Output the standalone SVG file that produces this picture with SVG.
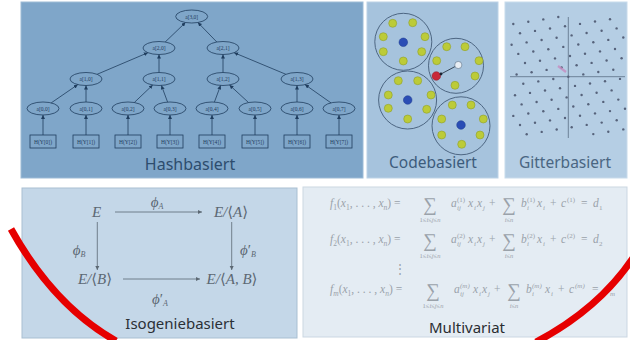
<svg xmlns="http://www.w3.org/2000/svg" width="630" height="340" viewBox="0 0 630 340">
<style>
.lbl{font-family:"Noto Sans","Open Sans",sans-serif;text-anchor:middle}
.nd{fill:none;stroke:#1f3d5e;stroke-width:0.8}
.nt{font-family:"Liberation Serif",serif;font-size:5.5px;fill:#1f3d5e;text-anchor:middle}
.ed{stroke:#1f3d5e;stroke-width:0.8;fill:none;marker-end:url(#ah)}
.g{fill:#bccb38;stroke:#8fa02c;stroke-width:0.6}
.b{fill:#2a4db5;stroke:#1d3a8c;stroke-width:0.5}
.cc{fill:none;stroke:#4d6682;stroke-width:1}
.m{font-family:"Liberation Serif","DejaVu Serif",serif;font-style:italic;font-size:15px;fill:#5c6873;text-anchor:middle}
.up{font-style:normal}
.ia{stroke:#5c6873;stroke-width:0.8;fill:none;marker-end:url(#ah2)}
.eq{font-family:"Liberation Serif","DejaVu Serif",serif;font-size:11.5px;fill:#9aa2aa}
.it{font-style:italic}
.sb{font-size:7.5px}
.s7{font-size:7px}
.sm{font-size:6.5px;text-anchor:middle}
.big{font-size:19px;text-anchor:middle}
.red{fill:none;stroke:#e60000;stroke-width:7}
</style>
<defs>
<marker id="ah" viewBox="0 0 6 6" refX="6" refY="3" markerWidth="4" markerHeight="4" markerUnits="userSpaceOnUse" orient="auto"><path d="M0,0 L6,3 L0,6 z" fill="#1f3d5e"/></marker>
<marker id="ah2" viewBox="0 0 6 6" refX="6" refY="3" markerWidth="4.5" markerHeight="4.5" markerUnits="userSpaceOnUse" orient="auto"><path d="M0,0 L6,3 L0,6 z" fill="#5c6873"/></marker>
</defs>
<rect width="630" height="340" fill="#ffffff"/>

<!-- Hashbasiert -->
<g id="hash">
<rect x="21" y="2" width="342" height="176" fill="#7fa6c9" stroke="#9dbbd6" stroke-width="1"/>
<g id="connectors">
<line class="ed" x1="165.2" y1="42" x2="185.5" y2="22.5"/>
<line class="ed" x1="216.8" y1="42" x2="197.9" y2="22.5"/>
<line class="ed" x1="97.1" y1="74.3" x2="147.9" y2="52.7"/>
<line class="ed" x1="159" y1="72.5" x2="159" y2="54.5"/>
<line class="ed" x1="223" y1="72.5" x2="223" y2="54.5"/>
<line class="ed" x1="285.9" y1="74.3" x2="234.1" y2="52.7"/>
<line class="ed" x1="51.2" y1="102.9" x2="77.8" y2="84.6"/>
<line class="ed" x1="86" y1="102" x2="86" y2="85.5"/>
<line class="ed" x1="134.3" y1="102.5" x2="152.7" y2="85"/>
<line class="ed" x1="167.6" y1="102.1" x2="161.4" y2="85.4"/>
<line class="ed" x1="214.4" y1="102.1" x2="220.6" y2="85.4"/>
<line class="ed" x1="248.5" y1="102.5" x2="229.5" y2="85"/>
<line class="ed" x1="297" y1="102" x2="297" y2="85.5"/>
<line class="ed" x1="331" y1="102.9" x2="305" y2="84.6"/>
<line class="ed" x1="43" y1="135" x2="43" y2="115"/>
<line class="ed" x1="86" y1="135" x2="86" y2="115"/>
<line class="ed" x1="128" y1="135" x2="128" y2="115"/>
<line class="ed" x1="170" y1="135" x2="170" y2="115"/>
<line class="ed" x1="212" y1="135" x2="212" y2="115"/>
<line class="ed" x1="255" y1="135" x2="255" y2="115"/>
<line class="ed" x1="297" y1="135" x2="297" y2="115"/>
<line class="ed" x1="339" y1="135" x2="339" y2="115"/>
</g>
<g id="n30"><ellipse class="nd" cx="191.7" cy="16.5" rx="16" ry="6.5"/><text class="nt" x="191.7" y="18.5">a[3,0]</text></g>
<g id="n20"><ellipse class="nd" cx="159" cy="48" rx="16" ry="6.5"/><text class="nt" x="159" y="50">a[2,0]</text></g>
<g id="n21"><ellipse class="nd" cx="223" cy="48" rx="16" ry="6.5"/><text class="nt" x="223" y="50">a[2,1]</text></g>
<g id="n10"><ellipse class="nd" cx="86" cy="79" rx="16" ry="6.5"/><text class="nt" x="86" y="81">a[1,0]</text></g>
<g id="n11"><ellipse class="nd" cx="159" cy="79" rx="16" ry="6.5"/><text class="nt" x="159" y="81">a[1,1]</text></g>
<g id="n12"><ellipse class="nd" cx="223" cy="79" rx="16" ry="6.5"/><text class="nt" x="223" y="81">a[1,2]</text></g>
<g id="n13"><ellipse class="nd" cx="297" cy="79" rx="16" ry="6.5"/><text class="nt" x="297" y="81">a[1,3]</text></g>
<g id="n00"><ellipse class="nd" cx="43" cy="108.5" rx="16" ry="6.5"/><text class="nt" x="43" y="110.5">a[0,0]</text></g>
<g id="n01"><ellipse class="nd" cx="86" cy="108.5" rx="16" ry="6.5"/><text class="nt" x="86" y="110.5">a[0,1]</text></g>
<g id="n02"><ellipse class="nd" cx="128" cy="108.5" rx="16" ry="6.5"/><text class="nt" x="128" y="110.5">a[0,2]</text></g>
<g id="n03"><ellipse class="nd" cx="170" cy="108.5" rx="16" ry="6.5"/><text class="nt" x="170" y="110.5">a[0,3]</text></g>
<g id="n04"><ellipse class="nd" cx="212" cy="108.5" rx="16" ry="6.5"/><text class="nt" x="212" y="110.5">a[0,4]</text></g>
<g id="n05"><ellipse class="nd" cx="255" cy="108.5" rx="16" ry="6.5"/><text class="nt" x="255" y="110.5">a[0,5]</text></g>
<g id="n06"><ellipse class="nd" cx="297" cy="108.5" rx="16" ry="6.5"/><text class="nt" x="297" y="110.5">a[0,6]</text></g>
<g id="n07"><ellipse class="nd" cx="339" cy="108.5" rx="16" ry="6.5"/><text class="nt" x="339" y="110.5">a[0,7]</text></g>
<g id="l0"><rect class="nd" x="30" y="135" width="26" height="13"/><text class="nt" x="43" y="143.5">H(Y[0])</text></g>
<g id="l1"><rect class="nd" x="73" y="135" width="26" height="13"/><text class="nt" x="86" y="143.5">H(Y[1])</text></g>
<g id="l2"><rect class="nd" x="115" y="135" width="26" height="13"/><text class="nt" x="128" y="143.5">H(Y[2])</text></g>
<g id="l3"><rect class="nd" x="157" y="135" width="26" height="13"/><text class="nt" x="170" y="143.5">H(Y[3])</text></g>
<g id="l4"><rect class="nd" x="199" y="135" width="26" height="13"/><text class="nt" x="212" y="143.5">H(Y[4])</text></g>
<g id="l5"><rect class="nd" x="242" y="135" width="26" height="13"/><text class="nt" x="255" y="143.5">H(Y[5])</text></g>
<g id="l6"><rect class="nd" x="284" y="135" width="26" height="13"/><text class="nt" x="297" y="143.5">H(Y[6])</text></g>
<g id="l7"><rect class="nd" x="326" y="135" width="26" height="13"/><text class="nt" x="339" y="143.5">H(Y[7])</text></g>
<text class="lbl" x="190" y="170" font-size="16" fill="#2d4d6e">Hashbasiert</text>
</g>

<!-- Codebasiert -->
<g id="code">
<rect x="367" y="2" width="131" height="176" fill="#a6c3dd" stroke="#bcd2e6" stroke-width="1"/>
<circle class="cc" cx="403.3" cy="41.8" r="28.5"/>
<circle class="cc" cx="456" cy="65.8" r="27.5"/>
<circle class="cc" cx="407.6" cy="100" r="29"/>
<circle class="cc" cx="461" cy="125.8" r="29"/>
<circle class="g" cx="392.7" cy="23.3" r="4"/><circle class="g" cx="412.7" cy="22.7" r="4"/><circle class="g" cx="383.3" cy="36.7" r="4"/><circle class="g" cx="425" cy="36.7" r="4"/><circle class="g" cx="383.3" cy="51.7" r="4"/><circle class="g" cx="421.7" cy="51.7" r="4"/><circle class="g" cx="403.3" cy="61" r="4"/>
<circle class="b" cx="403.3" cy="42.3" r="4.3"/>
<circle class="g" cx="446.7" cy="46.7" r="4"/><circle class="g" cx="465" cy="46.7" r="4"/><circle class="g" cx="436.7" cy="60.7" r="4"/><circle class="g" cx="479" cy="60.7" r="4"/><circle class="g" cx="475" cy="76" r="4"/><circle class="g" cx="455" cy="85.3" r="4"/>
<line x1="441" y1="74" x2="457" y2="65.5" stroke="#2b3a4a" stroke-width="0.9"/>
<circle cx="458.3" cy="65" r="3.6" fill="#e8eef4" stroke="#5a6f85" stroke-width="0.6"/>
<circle cx="436.3" cy="76" r="4.3" fill="#c8283a" stroke="#8a1a28" stroke-width="0.5"/>
<circle cx="441" cy="74" r="1.4" fill="#1a2230"/>
<circle class="g" cx="398.3" cy="80.7" r="4"/><circle class="g" cx="417.7" cy="80.7" r="4"/><circle class="g" cx="388.3" cy="95" r="4"/><circle class="g" cx="431" cy="95" r="4"/><circle class="g" cx="388.3" cy="108.3" r="4"/><circle class="g" cx="426.7" cy="109.3" r="4"/><circle class="g" cx="407.7" cy="119" r="4"/>
<circle class="b" cx="407.7" cy="100" r="4.3"/>
<circle class="g" cx="452.3" cy="105" r="4"/><circle class="g" cx="471" cy="105" r="4"/><circle class="g" cx="441.7" cy="119" r="4"/><circle class="g" cx="483.3" cy="119" r="4"/><circle class="g" cx="441.7" cy="135" r="4"/><circle class="g" cx="480" cy="135" r="4"/><circle class="g" cx="461.7" cy="144.3" r="4"/>
<circle class="b" cx="461" cy="125" r="4.3"/>
<text class="lbl" x="433" y="168" font-size="15.5" fill="#3d5c7c">Codebasiert</text>
</g>

<!-- Gitterbasiert -->
<g id="gitter">
<rect x="505" y="2" width="122" height="176" fill="#b5cee4" stroke="#c8dbeb" stroke-width="1"/>
<line x1="510" y1="76.7" x2="625" y2="76.7" stroke="#6d8298" stroke-width="1"/>
<line x1="568.3" y1="17" x2="568.3" y2="138" stroke="#6d8298" stroke-width="1"/>
<g fill="#56627a">
<circle cx="513.3" cy="24" r="1.2"/><circle cx="528.3" cy="21.7" r="1.2"/><circle cx="543.3" cy="19.4" r="1.2"/><circle cx="558.3" cy="17" r="1.2"/>
<circle cx="520" cy="33.2" r="1.2"/><circle cx="535" cy="30.9" r="1.2"/><circle cx="550" cy="28.5" r="1.2"/><circle cx="565" cy="26.2" r="1.2"/><circle cx="580" cy="23.9" r="1.2"/><circle cx="595" cy="21.5" r="1.2"/><circle cx="610" cy="19.2" r="1.2"/>
<circle cx="511.6" cy="44.7" r="1.2"/><circle cx="526.6" cy="42.4" r="1.2"/><circle cx="541.6" cy="40" r="1.2"/><circle cx="556.6" cy="37.7" r="1.2"/><circle cx="571.6" cy="35.4" r="1.2"/><circle cx="586.6" cy="33" r="1.2"/><circle cx="601.6" cy="30.7" r="1.2"/><circle cx="616.6" cy="28.4" r="1.2"/>
<circle cx="518.3" cy="53.9" r="1.2"/><circle cx="533.3" cy="51.5" r="1.2"/><circle cx="548.3" cy="49.2" r="1.2"/><circle cx="563.3" cy="46.9" r="1.2"/><circle cx="578.3" cy="44.5" r="1.2"/><circle cx="593.3" cy="42.2" r="1.2"/><circle cx="608.3" cy="39.9" r="1.2"/><circle cx="623.3" cy="37.5" r="1.2"/>
<circle cx="525" cy="63" r="1.2"/><circle cx="540" cy="60.7" r="1.2"/><circle cx="555" cy="58.4" r="1.2"/><circle cx="570" cy="56" r="1.2"/><circle cx="585" cy="53.7" r="1.2"/><circle cx="600" cy="51.4" r="1.2"/><circle cx="615" cy="49" r="1.2"/>
<circle cx="516.6" cy="74.5" r="1.2"/><circle cx="531.6" cy="72.2" r="1.2"/><circle cx="546.6" cy="69.9" r="1.2"/><circle cx="561.6" cy="67.5" r="1.2"/><circle cx="576.6" cy="65.2" r="1.2"/><circle cx="591.6" cy="62.9" r="1.2"/><circle cx="606.6" cy="60.5" r="1.2"/><circle cx="621.6" cy="58.2" r="1.2"/>
<circle cx="523.3" cy="83.7" r="1.2"/><circle cx="538.3" cy="81.4" r="1.2"/><circle cx="553.3" cy="79" r="1.2"/><circle cx="568.3" cy="76.7" r="1.2"/><circle cx="583.3" cy="74.4" r="1.2"/><circle cx="598.3" cy="72" r="1.2"/><circle cx="613.3" cy="69.7" r="1.2"/>
<circle cx="515" cy="95.2" r="1.2"/><circle cx="530" cy="92.9" r="1.2"/><circle cx="545" cy="90.5" r="1.2"/><circle cx="560" cy="88.2" r="1.2"/><circle cx="575" cy="85.9" r="1.2"/><circle cx="590" cy="83.5" r="1.2"/><circle cx="605" cy="81.2" r="1.2"/><circle cx="620" cy="78.9" r="1.2"/>
<circle cx="521.6" cy="104.4" r="1.2"/><circle cx="536.6" cy="102" r="1.2"/><circle cx="551.6" cy="99.7" r="1.2"/><circle cx="566.6" cy="97.4" r="1.2"/><circle cx="581.6" cy="95" r="1.2"/><circle cx="596.6" cy="92.7" r="1.2"/><circle cx="611.6" cy="90.4" r="1.2"/>
<circle cx="513.3" cy="115.9" r="1.2"/><circle cx="528.3" cy="113.5" r="1.2"/><circle cx="543.3" cy="111.2" r="1.2"/><circle cx="558.3" cy="108.9" r="1.2"/><circle cx="573.3" cy="106.5" r="1.2"/><circle cx="588.3" cy="104.2" r="1.2"/><circle cx="603.3" cy="101.9" r="1.2"/><circle cx="618.3" cy="99.6" r="1.2"/>
<circle cx="520" cy="125" r="1.2"/><circle cx="535" cy="122.7" r="1.2"/><circle cx="550" cy="120.4" r="1.2"/><circle cx="565" cy="118" r="1.2"/><circle cx="580" cy="115.7" r="1.2"/><circle cx="595" cy="113.4" r="1.2"/><circle cx="610" cy="111.1" r="1.2"/><circle cx="625" cy="108.7" r="1.2"/>
<circle cx="526.7" cy="134.2" r="1.2"/><circle cx="541.7" cy="131.9" r="1.2"/><circle cx="556.7" cy="129.5" r="1.2"/><circle cx="571.7" cy="127.2" r="1.2"/><circle cx="586.7" cy="124.9" r="1.2"/><circle cx="601.7" cy="122.6" r="1.2"/><circle cx="616.7" cy="120.2" r="1.2"/>
<circle cx="593.3" cy="134.1" r="1.2"/><circle cx="608.3" cy="131.7" r="1.2"/><circle cx="623.3" cy="129.4" r="1.2"/>
</g>
<line x1="566" y1="72" x2="558" y2="66" stroke="#c58bbf" stroke-width="2.2" stroke-opacity="0.8"/>
<text class="lbl" x="565" y="168" font-size="15.5" fill="#4a6682">Gitterbasiert</text>
</g>

<!-- Isogeniebasiert -->
<g id="iso">
<rect x="22" y="188" width="275" height="150" fill="#c4d7e8" stroke="#a9bfd2" stroke-width="1"/>
<g id="isoarrows">
<line class="ia" x1="115" y1="212" x2="202" y2="212"/>
<line class="ia" x1="97.3" y1="222" x2="97.3" y2="270"/>
<line class="ia" x1="231.7" y1="222" x2="231.7" y2="270"/>
<line class="ia" x1="123" y1="279" x2="200" y2="279"/>
</g>
<g id="iE"><text class="m" x="96.7" y="217">E</text></g>
<g id="iEA"><text class="m" x="231" y="217">E/<tspan class="up">⟨</tspan>A<tspan class="up">⟩</tspan></text></g>
<g id="iEB"><text class="m" x="95" y="284">E/<tspan class="up">⟨</tspan>B<tspan class="up">⟩</tspan></text></g>
<g id="iEAB"><text class="m" x="232" y="284">E/<tspan class="up">⟨</tspan>A, B<tspan class="up">⟩</tspan></text></g>
<text class="m" x="157" y="207" font-size="12">ϕ<tspan font-size="8" dy="2">A</tspan></text>
<text class="m" x="79" y="255" font-size="12">ϕ<tspan font-size="8" dy="2">B</tspan></text>
<text class="m" x="248" y="255" font-size="12">ϕ<tspan class="up">′</tspan><tspan font-size="8" dy="2">B</tspan></text>
<text class="m" x="160" y="304" font-size="12">ϕ<tspan class="up">′</tspan><tspan font-size="8" dy="2">A</tspan></text>
<text class="lbl" x="180" y="329" font-size="15" fill="#2b3036">Isogeniebasiert</text>
</g>

<!-- Multivariat -->
<g id="multi">
<rect x="303" y="187" width="324" height="150" fill="#e4ecf3" stroke="#cbd7e2" stroke-width="1"/>
<text class="eq"><tspan x="330" y="207" class="it">f</tspan><tspan class="sb" dy="2.5">1</tspan><tspan dy="-2.5">(</tspan><tspan class="it">x</tspan><tspan class="sb" dy="2.5">1</tspan><tspan dy="-2.5">, . . . , </tspan><tspan class="it">x</tspan><tspan class="sb it" dy="2.5">n</tspan><tspan dy="-2.5">) =</tspan><tspan class="big" x="430" y="211">∑</tspan><tspan class="sm" x="430" y="222">1≤<tspan class="it">i</tspan>≤<tspan class="it">j</tspan>≤<tspan class="it">n</tspan></tspan><tspan class="it" x="451" y="207">a</tspan><tspan class="s7" x="457" y="202">(1)</tspan><tspan class="s7 it" x="457" y="210">ij</tspan><tspan class="it" x="468" y="207">x</tspan><tspan class="s7 it" x="474" y="210">i</tspan><tspan class="it" x="477" y="207">x</tspan><tspan class="s7 it" x="483" y="210">j</tspan><tspan x="489" y="207">+</tspan><tspan class="big" x="509" y="211">∑</tspan><tspan class="sm" x="509" y="222"><tspan class="it">i</tspan>≤<tspan class="it">n</tspan></tspan><tspan class="it" x="521" y="207">b</tspan><tspan class="s7" x="527" y="202">(1)</tspan><tspan class="s7 it" x="527" y="210">i</tspan><tspan class="it" x="537" y="207">x</tspan><tspan class="s7 it" x="543" y="210">i</tspan><tspan x="550" y="207">+</tspan><tspan class="it" x="561" y="207">c</tspan><tspan class="s7" x="567" y="202">(1)</tspan><tspan x="581" y="207">=</tspan><tspan class="it" x="593" y="207">d</tspan><tspan class="s7" x="599" y="210">1</tspan></text>
<text class="eq"><tspan x="330" y="243" class="it">f</tspan><tspan class="sb" dy="2.5">2</tspan><tspan dy="-2.5">(</tspan><tspan class="it">x</tspan><tspan class="sb" dy="2.5">1</tspan><tspan dy="-2.5">, . . . , </tspan><tspan class="it">x</tspan><tspan class="sb it" dy="2.5">n</tspan><tspan dy="-2.5">) =</tspan><tspan class="big" x="430" y="247">∑</tspan><tspan class="sm" x="430" y="258">1≤<tspan class="it">i</tspan>≤<tspan class="it">j</tspan>≤<tspan class="it">n</tspan></tspan><tspan class="it" x="451" y="243">a</tspan><tspan class="s7" x="457" y="238">(2)</tspan><tspan class="s7 it" x="457" y="246">ij</tspan><tspan class="it" x="468" y="243">x</tspan><tspan class="s7 it" x="474" y="246">i</tspan><tspan class="it" x="477" y="243">x</tspan><tspan class="s7 it" x="483" y="246">j</tspan><tspan x="489" y="243">+</tspan><tspan class="big" x="509" y="247">∑</tspan><tspan class="sm" x="509" y="258"><tspan class="it">i</tspan>≤<tspan class="it">n</tspan></tspan><tspan class="it" x="521" y="243">b</tspan><tspan class="s7" x="527" y="238">(2)</tspan><tspan class="s7 it" x="527" y="246">i</tspan><tspan class="it" x="537" y="243">x</tspan><tspan class="s7 it" x="543" y="246">i</tspan><tspan x="550" y="243">+</tspan><tspan class="it" x="561" y="243">c</tspan><tspan class="s7" x="567" y="238">(2)</tspan><tspan x="581" y="243">=</tspan><tspan class="it" x="593" y="243">d</tspan><tspan class="s7" x="599" y="246">2</tspan></text>
<text class="eq" x="400" y="273" text-anchor="middle">⋮</text>
<text class="eq"><tspan x="330" y="293" class="it">f</tspan><tspan class="sb it" dy="2.5">m</tspan><tspan dy="-2.5">(</tspan><tspan class="it">x</tspan><tspan class="sb" dy="2.5">1</tspan><tspan dy="-2.5">, . . . , </tspan><tspan class="it">x</tspan><tspan class="sb it" dy="2.5">n</tspan><tspan dy="-2.5">) =</tspan><tspan class="big" x="433" y="297">∑</tspan><tspan class="sm" x="433" y="308">1≤<tspan class="it">i</tspan>≤<tspan class="it">j</tspan>≤<tspan class="it">n</tspan></tspan><tspan class="it" x="454" y="293">a</tspan><tspan class="s7 it" x="460" y="288">(m)</tspan><tspan class="s7 it" x="460" y="296">ij</tspan><tspan class="it" x="473" y="293">x</tspan><tspan class="s7 it" x="479" y="296">i</tspan><tspan class="it" x="482" y="293">x</tspan><tspan class="s7 it" x="488" y="296">j</tspan><tspan x="494" y="293">+</tspan><tspan class="big" x="514" y="297">∑</tspan><tspan class="sm" x="514" y="308"><tspan class="it">i</tspan>≤<tspan class="it">n</tspan></tspan><tspan class="it" x="526" y="293">b</tspan><tspan class="s7 it" x="532" y="288">(m)</tspan><tspan class="s7 it" x="532" y="296">i</tspan><tspan class="it" x="545" y="293">x</tspan><tspan class="s7 it" x="551" y="296">i</tspan><tspan x="558" y="293">+</tspan><tspan class="it" x="569" y="293">c</tspan><tspan class="s7 it" x="575" y="288">(m)</tspan><tspan x="592" y="293">=</tspan><tspan class="it" x="604" y="293">d</tspan><tspan class="s7 it" x="610" y="296">m</tspan></text>
<text class="lbl" x="467" y="333" font-size="15" fill="#2a2d31">Multivariat</text>
</g>

<!-- red highlight arcs -->
<path class="red" d="M 11 229 C 36 274, 70 315, 116 341"/>
<path class="red" d="M 536 342 C 576 321, 608 295, 633 258"/>
</svg>
